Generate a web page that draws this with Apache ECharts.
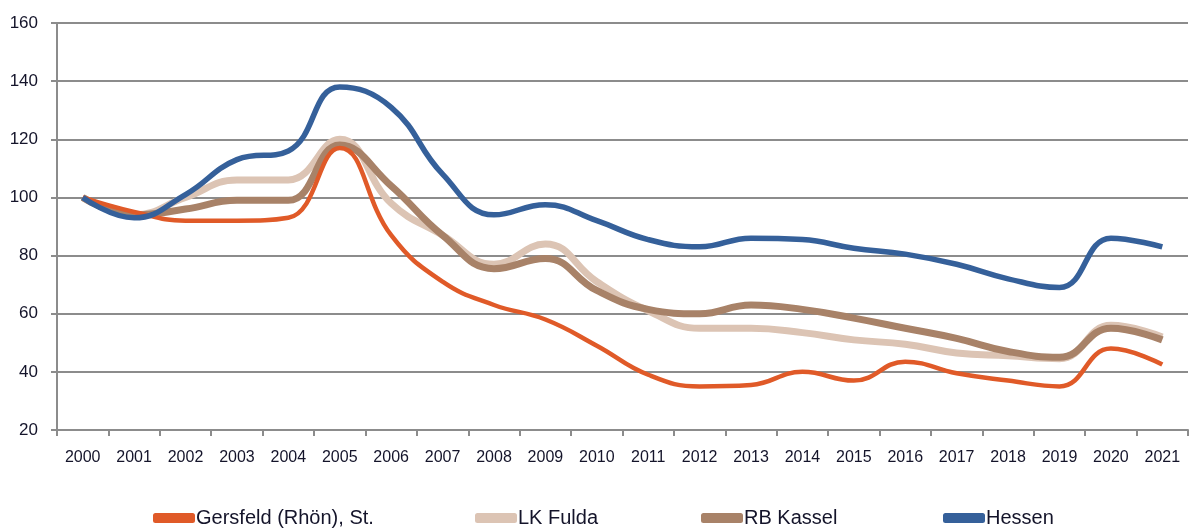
<!DOCTYPE html>
<html lang="de">
<head>
    <meta charset="utf-8">
    <title>Index 2000 = 100</title>
    <script src="https://cdn.jsdelivr.net/npm/echarts@6/dist/echarts.min.js"></script>
    <style>
        html, body { margin: 0; padding: 0; background: #fff; }
        #main { width: 1192px; height: 528px; }
    </style>
</head>
<body>
<div id="main"></div>
<script type="text/javascript">
    // Jahre auf der x-Achse
    var years = ['2000', '2001', '2002', '2003', '2004', '2005', '2006', '2007', '2008', '2009', '2010',
        '2011', '2012', '2013', '2014', '2015', '2016', '2017', '2018', '2019', '2020', '2021'];

    var gersfeld = [100, 95, 92, 92, 93, 117, 87, 71, 63, 58, 49, 39, 35, 35.5, 40, 37, 43.5, 39.5, 37, 35, 48, 42.5];
    var lkFulda = [100, 94, 100, 106, 106, 120, 98, 87, 77, 84, 71, 61, 55, 55, 53.5, 51, 49.5, 46.5, 45.5, 44.5, 56, 52];
    var rbKassel = [100, 94, 96, 99, 99, 118, 104, 87, 75.5, 79, 68, 61.5, 60, 63, 61.5, 58.5, 55, 51.5, 47, 45, 55, 51];
    var hessen = [100, 93, 101, 113, 116, 138, 131, 108, 94, 97.5, 92, 85.5, 83, 86, 85.5, 82.5, 80.5, 77, 72, 69, 86, 83];

    var yTicks = [20, 160, 20]; // min, max, interval

    var names = ['Gersfeld (Rhön), St.', 'LK Fulda', 'RB Kassel', 'Hessen'];
    var colors = ['#e05a28', '#dcc4b4', '#a88268', '#35609a'];
    var legendLeft = [148, 470, 696, 938];

    var myChart = echarts.init(document.getElementById('main'));

    function legendFor(i) {
        return {
            data: [names[i]],
            left: legendLeft[i],
            top: 503,
            icon: 'roundRect',
            itemWidth: 42,
            itemHeight: 10,
            itemGap: 2,
            textStyle: {
                fontFamily: 'Liberation Sans',
                fontSize: 20,
                color: '#14142a',
                padding: [0, 0, 0, -4]
            }
        };
    }

    function lineSeries(i, data, width, z) {
        return {
            name: names[i],
            type: 'line',
            data: data,
            smooth: 0.45,
            symbol: 'none',
            z: z,
            lineStyle: { color: colors[i], width: width },
            itemStyle: { color: colors[i] }
        };
    }

    myChart.setOption({
        animation: false,
        grid: { left: 57, right: 4, top: 23, bottom: 98 },
        legend: [legendFor(0), legendFor(1), legendFor(2), legendFor(3)],
        xAxis: {
            type: 'category',
            data: years,
            boundaryGap: true,
            axisLine: { lineStyle: { color: '#8c8c8c', width: 2 } },
            axisTick: { show: true, length: 6, interval: 0, lineStyle: { color: '#8c8c8c', width: 2 } },
            axisLabel: {
                interval: 0,
                margin: 20,
                fontFamily: 'Liberation Sans',
                fontSize: 16,
                color: '#14142a'
            }
        },
        yAxis: {
            type: 'value',
            min: yTicks[0],
            max: yTicks[1],
            interval: yTicks[2],
            axisLine: { show: true, lineStyle: { color: '#8c8c8c', width: 2 } },
            axisTick: { show: true, length: 6, lineStyle: { color: '#8c8c8c', width: 2 } },
            splitLine: { lineStyle: { color: '#8c8c8c', width: 2 } },
            axisLabel: {
                margin: 19,
                fontFamily: 'Liberation Sans',
                fontSize: 17,
                color: '#14142a'
            }
        },
        series: [
            lineSeries(1, lkFulda, 7, 2),
            lineSeries(2, rbKassel, 7, 3),
            lineSeries(0, gersfeld, 4.5, 4),
            lineSeries(3, hessen, 5.5, 5)
        ]
    });
</script>
</body>
</html>
